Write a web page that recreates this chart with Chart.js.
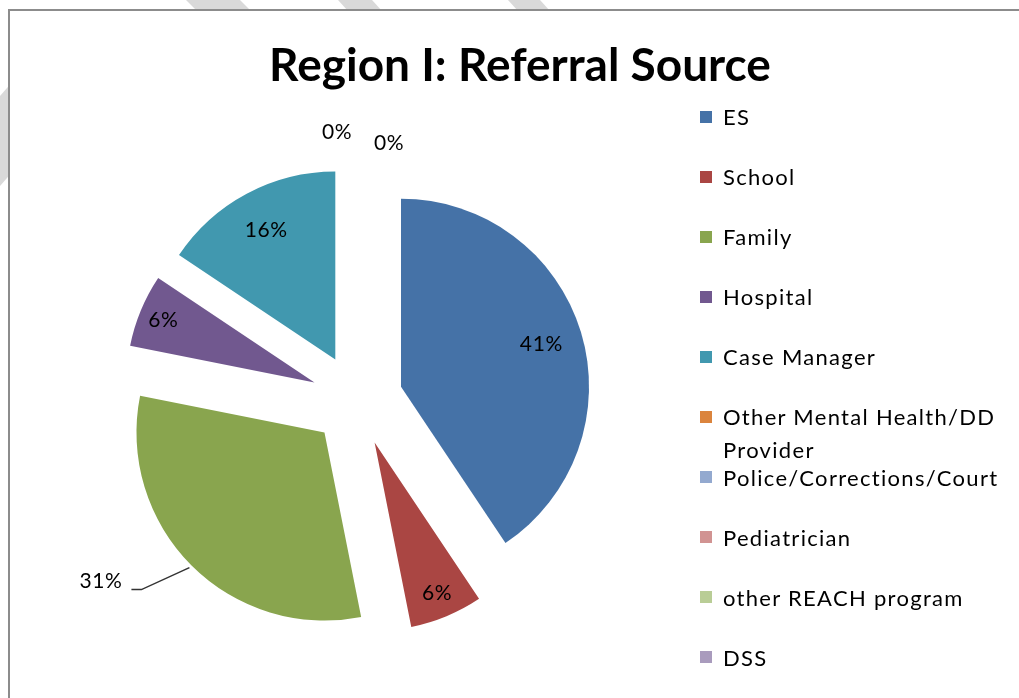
<!DOCTYPE html>
<html>
<head>
<meta charset="utf-8">
<title>Region I: Referral Source</title>
<script src="https://cdn.jsdelivr.net/npm/chart.js@4/dist/chart.umd.min.js"></script>
<style>
    html, body {
        margin: 0;
        padding: 0;
        width: 1019px;
        height: 698px;
        overflow: hidden;
        background: #fff;
        font-family: Lato, "Open Sans", sans-serif;
    }
    #stripes { position: absolute; left: 0; top: 0; }
    #frame {
        position: absolute;
        left: 8px;
        top: 9px;
        width: 1100px;
        height: 800px;
        border-left: 2px solid #8c8c8c;
        border-top: 2px solid #8c8c8c;
        background: #fff;
    }
    #chartWrap { position: absolute; left: 0; top: 0; width: 1019px; height: 698px; }
    #chartTitle {
        position: absolute;
        left: 0;
        top: 36px;
        width: 1040px;
        text-align: center;
        font-weight: bold;
        font-size: 46px;
        line-height: 56px;
        color: #000;
    }
    #legend {
        position: absolute;
        left: 700px;
        top: 100px;
        width: 310px;
        margin: 0;
        padding: 0;
        list-style: none;
    }
    #legend li {
        position: relative;
        height: 60.1px;
        padding-left: 23px;
        font-size: 22px;
        letter-spacing: 1.3px;
        line-height: 33px;
        color: #000;
    }
    #legend .box {
        position: absolute;
        left: 0;
        top: 10.5px;
        width: 12px;
        height: 12px;
    }
</style>
</head>
<body>
<svg id="stripes" width="1019" height="698">
    <polygon points="186,0 240,0 262,22 208,22" fill="#d9d9d9"/>
    <polygon points="338,0 372,0 392,22 358,22" fill="#d9d9d9"/>
    <polygon points="508,0 540,0 560,22 528,22" fill="#d9d9d9"/>
    <polygon points="0,96 14,80 14,170 0,186" fill="#d9d9d9"/>
</svg>
<div id="frame"></div>
<div id="chartWrap"><canvas id="referralChart"></canvas></div>
<div id="chartTitle"></div>
<ul id="legend"></ul>

<script>
const chartTitle = 'Region I: Referral Source';

const categories = [
    'ES', 'School', 'Family', 'Hospital', 'Case Manager',
    'Other Mental Health/DD Provider', 'Police/Corrections/Court',
    'Pediatrician', 'other REACH program', 'DSS'
];

// referral counts (41%, 6%, 31%, 6%, 16%, two 0% entries, rest blank)
const referrals = [13, 2, 10, 2, 5, 0, 0, null, null, null];

const sliceColors = [
    '#4572A7', '#AA4643', '#89A54E', '#71588F', '#4198AF',
    '#DB843D', '#93A9CF', '#D19392', '#B9CD96', '#A99BBD'
];

// pulls every slice out along its middle angle
const explodePlugin = {
    id: 'explode',
    beforeDatasetDraw(chart, args, opts) {
        const ctx = chart.ctx;
        args.meta.data.forEach(arc => {
            const mid = (arc.startAngle + arc.endAngle) / 2;
            ctx.save();
            ctx.translate(Math.cos(mid) * opts.distance, Math.sin(mid) * opts.distance);
            arc.draw(ctx);
            ctx.restore();
        });
        return false;
    }
};

const sliceLabelPlugin = {
    id: 'sliceLabels',
    afterDatasetsDraw(chart, args, opts) {
        const ctx = chart.ctx;
        const meta = chart.getDatasetMeta(0);
        const values = chart.data.datasets[0].data;
        const total = values.reduce((sum, v) => sum + (v || 0), 0);
        const explode = chart.options.plugins.explode.distance;
        let zeroCount = 0;

        ctx.save();
        ctx.font = opts.font;
        ctx.fillStyle = opts.color;
        ctx.textBaseline = 'middle';
        ctx.textAlign = 'center';
        if ('letterSpacing' in ctx) ctx.letterSpacing = '0.6px';

        meta.data.forEach((arc, i) => {
            const v = values[i];
            if (v === null || v === undefined) return;
            const text = Math.round(v / total * 100) + '%';
            const mid = (arc.startAngle + arc.endAngle) / 2;
            const dx = Math.cos(mid), dy = Math.sin(mid);
            const cx = arc.x + dx * explode;
            const cy = arc.y + dy * explode;
            const r = arc.outerRadius;

            if (v === 0) {
                const nudge = opts.zeroNudges[zeroCount++ % opts.zeroNudges.length];
                ctx.fillText(text, cx + dx * r + nudge[0], cy + dy * r + nudge[1]);
            } else if (opts.outside.includes(i)) {
                const ex = cx + dx * (r + 3), ey = cy + dy * (r + 3);
                const kx = ex - 48, ky = ey + 22;
                ctx.strokeStyle = '#333';
                ctx.lineWidth = 1.5;
                ctx.beginPath();
                ctx.moveTo(ex, ey);
                ctx.lineTo(kx, ky);
                ctx.lineTo(kx - 10, ky);
                ctx.stroke();
                ctx.textAlign = 'right';
                ctx.fillText(text, kx - 19, ky - 8);
                ctx.textAlign = 'center';
            } else {
                const f = arc.circumference < 0.6 ? 0.87 : 0.78;
                ctx.fillText(text, cx + dx * r * f, cy + dy * r * f);
            }
        });
        ctx.restore();
    }
};

function buildLegend() {
    const list = document.getElementById('legend');
    categories.forEach((name, i) => {
        const li = document.createElement('li');
        const box = document.createElement('span');
        box.className = 'box';
        box.style.background = sliceColors[i];
        li.appendChild(box);
        li.appendChild(document.createTextNode(name));
        list.appendChild(li);
    });
}

function initializeChart() {
    document.getElementById('chartTitle').textContent = chartTitle;
    buildLegend();

    const ctx = document.getElementById('referralChart');
    return new Chart(ctx, {
        type: 'pie',
        data: {
            labels: categories,
            datasets: [{
                data: referrals,
                backgroundColor: sliceColors,
                borderWidth: 0
            }]
        },
        options: {
            responsive: true,
            maintainAspectRatio: false,
            animation: false,
            radius: 188,
            layout: {
                padding: { left: 0, right: 305, top: 102, bottom: 0 }
            },
            plugins: {
                legend: { display: false },
                title: { display: false },
                tooltip: { enabled: false },
                explode: { distance: 46 },
                sliceLabels: {
                    font: '21px Lato, "Open Sans", sans-serif',
                    color: '#000',
                    outside: [2],
                    zeroNudges: [[-20, -34], [32, -23]]
                }
            }
        },
        plugins: [explodePlugin, sliceLabelPlugin]
    });
}

document.addEventListener('DOMContentLoaded', initializeChart);
</script>
</body>
</html>
